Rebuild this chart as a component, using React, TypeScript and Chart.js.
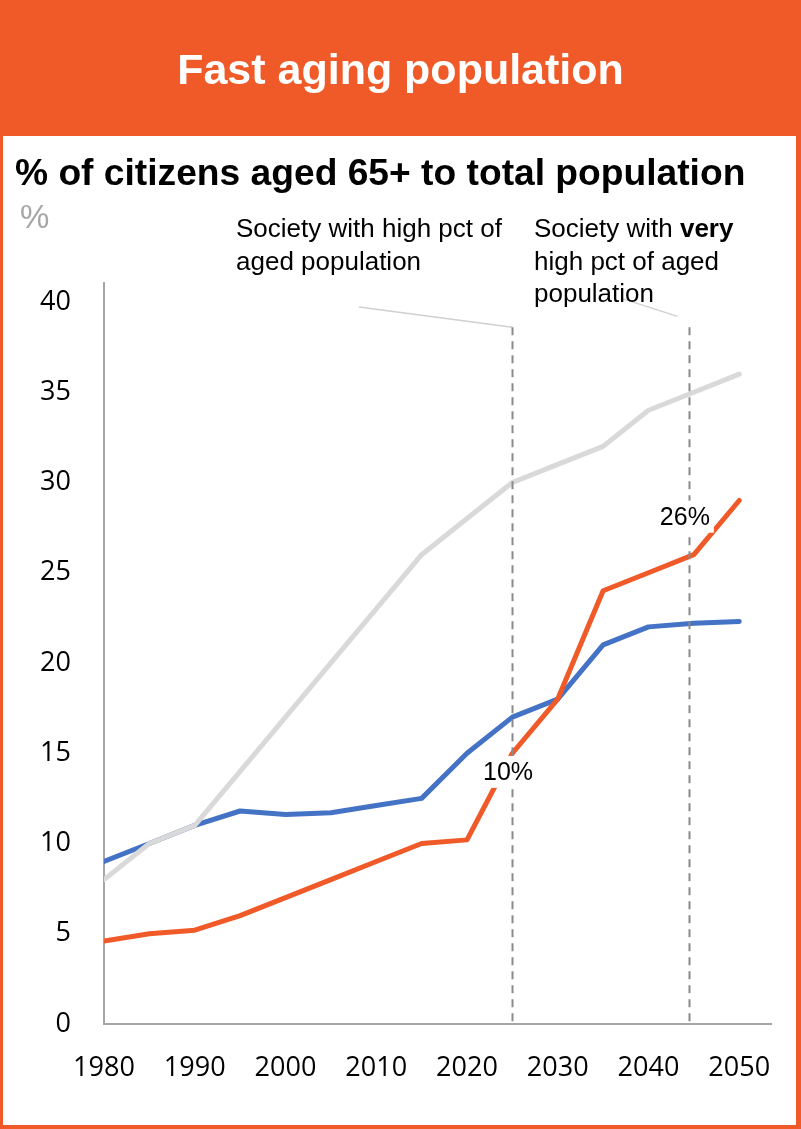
import { useEffect, useRef } from 'react';
import { Chart, registerables } from 'chart.js';

Chart.register(...registerables);

// Share of citizens aged 65+ (percent), every five years
const years = [1980, 1985, 1990, 1995, 2000, 2005, 2010, 2015, 2020, 2025, 2030, 2035, 2040, 2045, 2050];
const greySeries = [8, 10, 11, 14, 17, 20, 23, 26, 28, 30, 31, 32, 34, 35, 36];
const blueSeries = [9, 10, 11, 11.8, 11.6, 11.7, 12.1, 12.5, 15, 17, 18, 21, 22, 22.2, 22.3];
const orangeSeries = [4.6, 5.0, 5.2, 6.0, 7.0, 8.0, 9.0, 10.0, 10.2, 15, 18, 24, 25, 26, 29];

const xTicks = [1980, 1990, 2000, 2010, 2020, 2030, 2040, 2050];
const yTicks = [0, 5, 10, 15, 20, 25, 30, 35, 40];

// Threshold markers (years) and the callout leaders pointing at them: [x0, y0, x1, y1]
const thresholdYears = [2025, 2044.5];
const thresholdTop = 38.6;
const leaders = [
  [2008.1, 39.72, 2025, 38.6],
  [2037.2, 40.17, 2043.2, 39.2],
];

// Orange points that carry a value label, with the label's pixel offset from the point
const labelledPoints = [8, 13];
const labelOffsets = [
  [41, -68],
  [-9, -38],
];

const ORANGE = '#F05A28';
const BLUE = '#4472C4';
const GREY = '#D9D9D9';
const SANS = '"Liberation Sans", Arial, sans-serif';
const TICK_FONT = '"Open Sans", "Liberation Sans", sans-serif';

const overlay = {
  id: 'overlay',
  afterDatasetsDraw(chart: any) {
    const { ctx } = chart;
    const x = chart.scales.x;
    const y = chart.scales.y;
    ctx.save();

    ctx.strokeStyle = '#d0d0d0';
    ctx.lineWidth = 1.5;
    for (const [x0, y0, x1, y1] of leaders) {
      ctx.beginPath();
      ctx.moveTo(x.getPixelForValue(x0), y.getPixelForValue(y0));
      ctx.lineTo(x.getPixelForValue(x1), y.getPixelForValue(y1));
      ctx.stroke();
    }

    ctx.setLineDash([8, 6]);
    ctx.strokeStyle = '#8a8a8a';
    ctx.lineWidth = 2;
    for (const yr of thresholdYears) {
      const px = Math.round(x.getPixelForValue(yr)) + 0.5;
      ctx.beginPath();
      ctx.moveTo(px, y.getPixelForValue(thresholdTop));
      ctx.lineTo(px, y.getPixelForValue(0));
      ctx.stroke();
    }
    ctx.setLineDash([]);

    ctx.font = `25px ${SANS}`;
    ctx.textAlign = 'center';
    ctx.textBaseline = 'middle';
    labelledPoints.forEach((idx, k) => {
      const [dx, dy] = labelOffsets[k];
      const cx = x.getPixelForValue(years[idx]) + dx;
      const cy = y.getPixelForValue(orangeSeries[idx]) + dy;
      const text = `${Math.round(orangeSeries[idx])}%`;
      const w = ctx.measureText(text).width + 8;
      ctx.fillStyle = '#ffffff';
      ctx.fillRect(cx - w / 2, cy - 16, w, 32);
      ctx.fillStyle = '#000000';
      ctx.fillText(text, cx, cy + 1);
    });

    ctx.restore();
  },
};

export default function App() {
  const canvasRef = useRef<HTMLCanvasElement | null>(null);

  useEffect(() => {
    if (!canvasRef.current) return;
    const toPoints = (vals: number[]) => vals.map((v, i) => ({ x: years[i], y: v }));
    const lineStyle = {
      borderWidth: 5,
      pointRadius: 0,
      pointHoverRadius: 0,
      tension: 0,
      fill: false,
      borderCapStyle: 'round' as const,
      borderJoinStyle: 'round' as const,
    };
    const chart = new Chart(canvasRef.current, {
      type: 'line',
      data: {
        datasets: [
          { ...lineStyle, data: toPoints(orangeSeries), borderColor: ORANGE },
          { ...lineStyle, data: toPoints(greySeries), borderColor: GREY },
          { ...lineStyle, data: toPoints(blueSeries), borderColor: BLUE },
        ],
      },
      options: {
        responsive: false,
        animation: false,
        devicePixelRatio: 1,
        layout: { padding: { left: 0, right: 30, top: 283, bottom: 0 } },
        plugins: { legend: { display: false }, tooltip: { enabled: false }, title: { display: false } },
        scales: {
          x: {
            type: 'linear',
            min: 1980,
            max: 2053.5,
            grid: { display: false, drawTicks: false },
            border: { display: true, color: '#a6a6a6', width: 2 },
            ticks: {
              padding: 28,
              color: '#000',
              font: { family: TICK_FONT, size: 27 },
              maxRotation: 0,
              autoSkip: false,
              callback: (v: any) => String(v),
            },
            afterBuildTicks: (s: any) => {
              s.ticks = xTicks.map((v) => ({ value: v }));
            },
            afterFit: (s: any) => {
              s.height = 105;
            },
          },
          y: {
            type: 'linear',
            min: 0,
            max: 41.05,
            grid: { display: false, drawTicks: false },
            border: { display: true, color: '#a6a6a6', width: 2 },
            ticks: {
              padding: 33,
              color: '#000',
              font: { family: TICK_FONT, size: 27 },
              autoSkip: false,
              callback: (v: any) => String(v),
            },
            afterBuildTicks: (s: any) => {
              s.ticks = yTicks.map((v) => ({ value: v }));
            },
            afterFit: (s: any) => {
              s.width = 104;
            },
          },
        },
      },
      plugins: [overlay],
    });
    return () => chart.destroy();
  }, []);

  const abs = (extra: React.CSSProperties): React.CSSProperties => ({ position: 'absolute', ...extra });

  return (
    <div style={{ position: 'relative', width: 801, height: 1129, background: '#fff', overflow: 'hidden' }}>
      <style>{'body{margin:0}'}</style>
      <div style={abs({ left: 0, top: 0, width: 801, height: 136, background: ORANGE })} />
      <div style={abs({ left: 0, top: 0, width: 3, height: 1129, background: ORANGE })} />
      <div style={abs({ left: 796, top: 0, width: 5, height: 1129, background: ORANGE })} />
      <div style={abs({ left: 0, top: 1125, width: 801, height: 4, background: ORANGE })} />
      <canvas ref={canvasRef} width={801} height={1129} style={abs({ left: 0, top: 0, width: 801, height: 1129 })} />
      <div
        style={abs({
          left: 0,
          top: 48,
          width: 801,
          textAlign: 'center',
          font: `bold 43px/43px ${SANS}`,
          color: '#fff',
          whiteSpace: 'nowrap',
        })}
      >
        Fast aging population
      </div>
      <div style={abs({ left: 15, top: 154, font: `bold 37.2px/37px ${SANS}`, color: '#000', whiteSpace: 'nowrap' })}>
        % of citizens aged 65+ to total population
      </div>
      <div style={abs({ left: 20, top: 200, font: `33px/33px ${SANS}`, color: '#a6a6a6' })}>%</div>
      <div style={abs({ left: 236, top: 212, font: `26px/32.5px ${SANS}`, color: '#000', whiteSpace: 'nowrap' })}>
        Society with high pct of
        <br />
        aged population
      </div>
      <div style={abs({ left: 534, top: 212, font: `26px/32.5px ${SANS}`, color: '#000', whiteSpace: 'nowrap' })}>
        Society with <b>very</b>
        <br />
        high pct of aged
        <br />
        population
      </div>
    </div>
  );
}
